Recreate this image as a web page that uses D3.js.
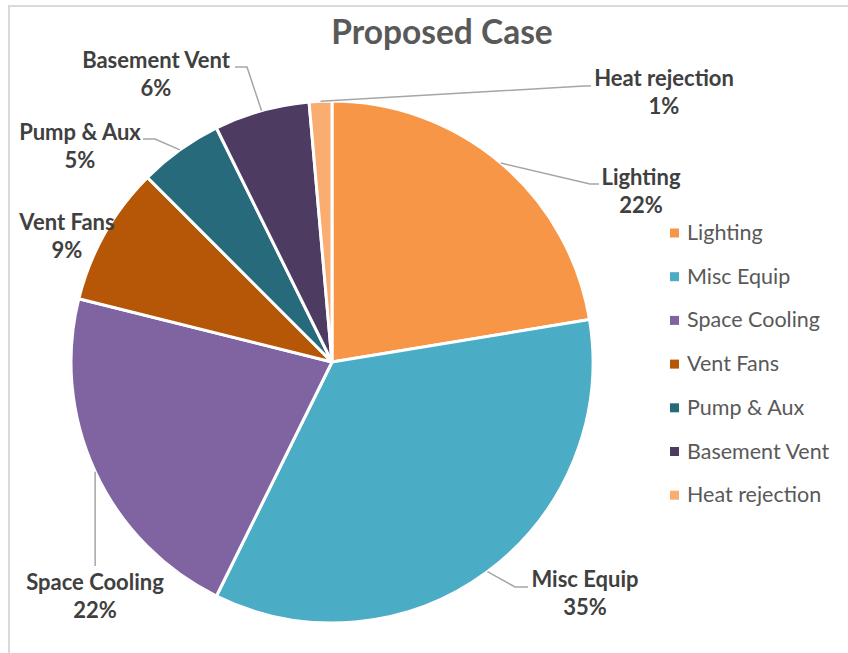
<!DOCTYPE html>
<html>
<head>
<meta charset="utf-8">
<script src="https://cdn.jsdelivr.net/npm/d3@7/dist/d3.min.js"></script>
<style>
  html, body { margin: 0; padding: 0; background: #fff; }
  svg { display: block; }
</style>
</head>
<body>
<svg id="chart" width="848" height="653"></svg>
<script>
// Energy end-use breakdown, proposed case (percent of total)
const categories = ["Lighting", "Misc Equip", "Space Cooling", "Vent Fans", "Pump & Aux", "Basement Vent", "Heat rejection"];
const shares = [22.4, 34.9, 21.6, 8.6, 5.2, 5.9, 1.4];
const colors = ["#F79646", "#4BACC6", "#8064A2", "#B65708", "#276A7C", "#4D3B62", "#F9AD70"];
const title = "Proposed Case";

// Label placement: centre x and first baseline of each two-line label,
// plus the elbow and end of its leader line (null = no leader)
const labelLayout = [
  { x: 641, y: 185, elbow: [590, 184], end: [599, 184] },
  { x: 585, y: 587, elbow: [515, 587], end: [528, 587] },
  { x: 95,  y: 590, elbow: null, end: [95, 566], vertical: true },
  { x: 67,  y: 230, elbow: null, end: null },
  { x: 80,  y: 140, elbow: [155, 139], end: [143, 139] },
  { x: 156, y: 68,  elbow: [247, 67],  end: [235, 67] },
  { x: 664, y: 86,  elbow: [584, 86],  end: [591, 86] }
];

const W = 848, H = 653;
const cx = 332, cy = 362, R = 261;
const svg = d3.select("#chart");

// outer chart border
svg.append("rect")
  .attr("x", 9).attr("y", 6)
  .attr("width", W + 20).attr("height", H + 20)
  .attr("fill", "none")
  .attr("stroke", "#d9d9d9")
  .attr("stroke-width", 2);

// title
svg.append("text")
  .attr("x", 442).attr("y", 44)
  .attr("text-anchor", "middle")
  .attr("font-family", "Lato, 'Open Sans', sans-serif")
  .attr("font-weight", "bold")
  .attr("font-size", 33.5)
  .attr("fill", "#595959")
  .text(title);

const data = categories.map((c, i) => ({ name: c, value: shares[i], color: colors[i], layout: labelLayout[i] }));
const total = d3.sum(shares);
const pct = d3.format(".0%");

const pie = d3.pie().sort(null).value(d => d.value).startAngle(0).endAngle(2 * Math.PI);
const arcs = pie(data);
const arc = d3.arc().innerRadius(0).outerRadius(R);

const g = svg.append("g").attr("transform", `translate(${cx},${cy})`);

g.selectAll("path.slice")
  .data(arcs)
  .join("path")
  .attr("class", "slice")
  .attr("d", arc)
  .attr("fill", d => d.data.color)
  .attr("stroke", "#fff")
  .attr("stroke-width", 3)
  .attr("stroke-linejoin", "round");

// leader lines from each slice's outer edge at its mid angle
const edgePoint = d => {
  const a = (d.startAngle + d.endAngle) / 2;
  return [cx + R * Math.sin(a), cy - R * Math.cos(a)];
};

svg.selectAll("path.leader")
  .data(arcs.filter(d => d.data.layout.end))
  .join("path")
  .attr("class", "leader")
  .attr("fill", "none")
  .attr("stroke", "#a6a6a6")
  .attr("stroke-width", 1.5)
  .attr("d", d => {
    const p0 = edgePoint(d);
    const L = d.data.layout;
    const pts = [p0];
    if (L.vertical) pts.push([p0[0], L.end[1]]);
    else {
      if (L.elbow) pts.push(L.elbow);
      pts.push(L.end);
    }
    return d3.line()(pts);
  });

// data labels
const labels = svg.selectAll("text.dlabel")
  .data(arcs)
  .join("text")
  .attr("class", "dlabel")
  .attr("text-anchor", "middle")
  .attr("font-family", "Lato, 'Open Sans', sans-serif")
  .attr("font-weight", "bold")
  .attr("font-size", 22)
  .attr("fill", "#404040");

labels.append("tspan")
  .attr("x", d => d.data.layout.x)
  .attr("y", d => d.data.layout.y)
  .text(d => d.data.name);
labels.append("tspan")
  .attr("x", d => d.data.layout.x)
  .attr("y", d => d.data.layout.y + 28)
  .text(d => pct(d.data.value / total));

// legend
const legend = svg.append("g").attr("transform", "translate(670,233)");
const rowH = 43.7;
const items = legend.selectAll("g.item")
  .data(data)
  .join("g")
  .attr("class", "item")
  .attr("transform", (d, i) => `translate(0,${i * rowH})`);
items.append("rect")
  .attr("x", 0).attr("y", -4.5)
  .attr("width", 9).attr("height", 9)
  .attr("fill", d => d.color);
items.append("text")
  .attr("x", 17).attr("y", 7)
  .attr("font-family", "Lato, 'Open Sans', sans-serif")
  .attr("font-size", 21.5)
  .attr("fill", "#595959")
  .text(d => d.name);
</script>
</body>
</html>
